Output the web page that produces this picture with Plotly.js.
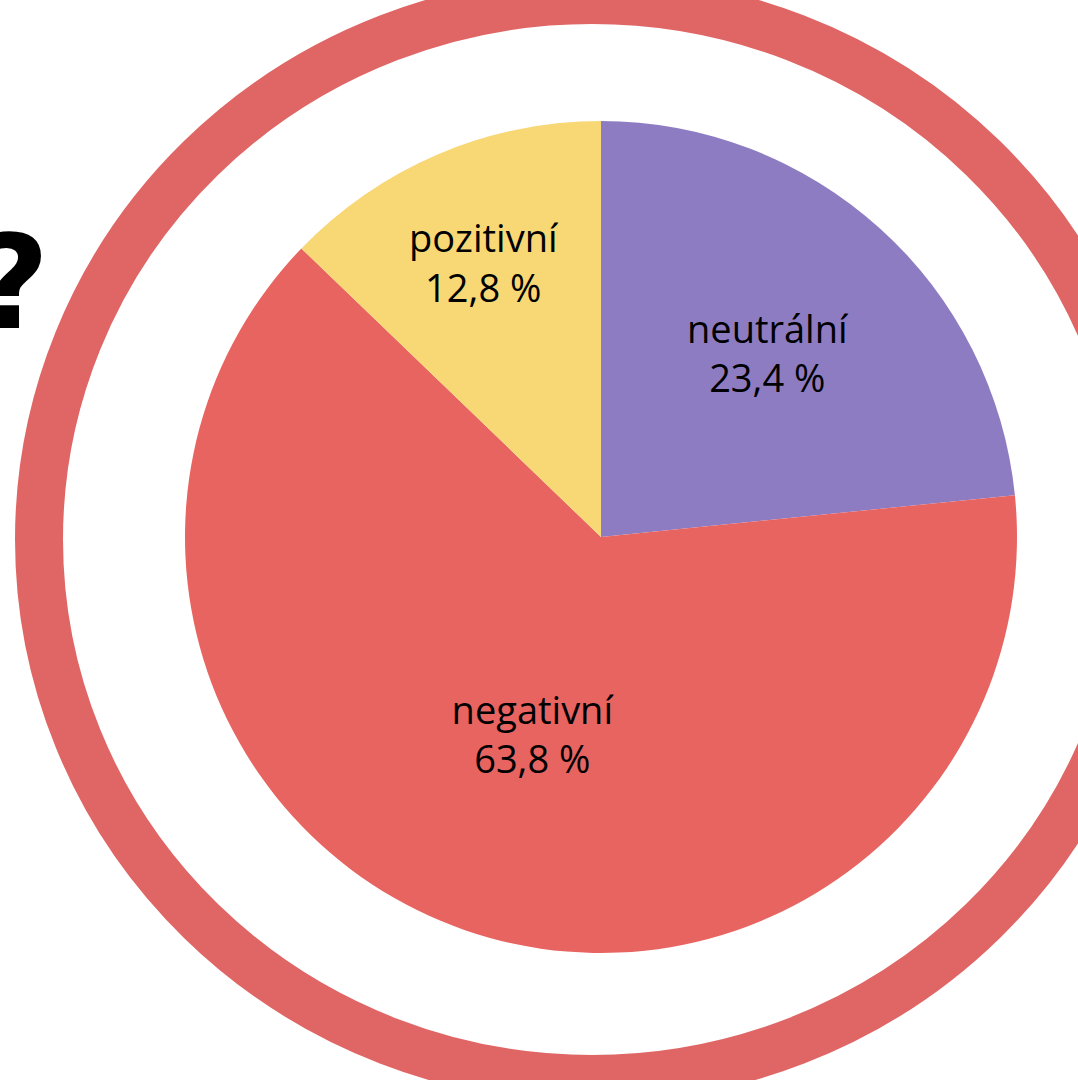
<!DOCTYPE html>
<html>
<head>
<meta charset="utf-8">
<script src="https://cdn.plot.ly/plotly-3.0.1.min.js"></script>
<style>html,body{margin:0;padding:0;background:#fff;}</style>
</head>
<body>
<div id="chart" style="width:1078px;height:1080px;"></div>
<script>
const labels = ['neutrální', 'negativní', 'pozitivní'];
const values = [23.4, 63.8, 12.8];
const colors = ['#8E7CC3', '#E86461', '#F8D775'];

const trace = {
  type: 'pie',
  labels: labels,
  values: values,
  sort: false,
  direction: 'clockwise',
  rotation: 0,
  marker: {colors: colors, line: {width: 0}},
  texttemplate: '%{label}<br>%{value:.1f} %',
  textposition: 'inside',
  insidetextorientation: 'horizontal',
  textfont: {family: 'Open Sans, sans-serif', size: 38, color: '#000000'},
  hoverinfo: 'none',
  showlegend: false,
  domain: {x: [0.17161, 0.94341], y: [0.11759, 0.88796]}
};

const W = 1078, H = 1080;
const layout = {
  width: W, height: H,
  margin: {l: 0, r: 0, t: 0, b: 0},
  paper_bgcolor: '#ffffff',
  separators: ', ',
  showlegend: false,
  shapes: [{
    type: 'circle', xref: 'paper', yref: 'paper',
    x0: 39 / W, x1: 1145 / W,
    y0: 1 - 1079 / H, y1: 1,
    line: {color: '#E06666', width: 48},
    fillcolor: 'rgba(0,0,0,0)',
    layer: 'below'
  }],
  annotations: [{
    text: '?', xref: 'paper', yref: 'paper',
    x: 50 / W, y: 1 - 283 / H, xanchor: 'right', yanchor: 'middle',
    showarrow: false, borderpad: 0,
    font: {family: 'DejaVu Sans, sans-serif', size: 130, color: '#000000', weight: 'bold'}
  }]
};

Plotly.newPlot('chart', [trace], layout, {displayModeBar: false, staticPlot: true});
</script>
</body>
</html>
